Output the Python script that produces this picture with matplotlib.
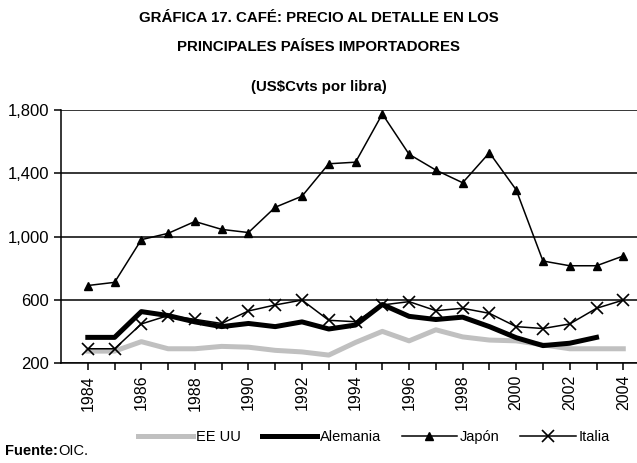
import matplotlib.pyplot as plt

plt.rcParams['font.family'] = ['Liberation Sans', 'DejaVu Sans']

anios = list(range(1984, 2005))
eeuu = [275, 275, 335, 290, 290, 305, 300, 280, 270, 250, 330, 400, 340, 410, 365, 345,
        340, 315, 290, 290, 290]
alemania = [362, 362, 525, 500, 460, 430, 450, 430, 460, 415, 440, 570, 495, 475, 490, 430,
            360, 310, 325, 362]
japon = [690, 710, 980, 1020, 1095, 1045, 1025, 1185, 1255, 1460, 1470, 1775, 1520, 1420,
         1340, 1530, 1295, 845, 815, 815, 877]
italia = [290, 290, 447, 500, 476, 450, 529, 567, 598, 470, 461, 567, 588, 531, 546, 514,
          430, 418, 447, 546, 598]

fig = plt.figure(figsize=(6.37, 4.63), dpi=100)
ax = fig.add_axes([0.0958, 0.216, 0.91, 0.5464])

ax.plot(anios, eeuu, color='#c0c0c0', lw=3.6, label='EE UU', zorder=2)
ax.plot(anios[:len(alemania)], alemania, color='black', lw=3.6, label='Alemania', zorder=3)
ax.plot(anios, japon, color='black', lw=1.1, marker='^', ms=6, label='Japón', zorder=4)
ax.plot(anios, italia, color='black', lw=1.1, marker='x', ms=8, mew=1.2, label='Italia', zorder=5)

ax.set_ylim(200, 1800)
ax.set_xlim(1983, 2004.65)
ax.set_yticks([200, 600, 1000, 1400, 1800])
ax.set_yticklabels(['200', '600', '1,000', '1,400', '1,800'], fontsize=12)
ax.set_xticks(anios)
ax.set_xticklabels([str(a) if a % 2 == 0 else '' for a in anios], rotation=90, fontsize=11.5)
ax.grid(axis='y', color='black', lw=1.1)
ax.set_axisbelow(True)
for lado in ['top', 'right']:
    ax.spines[lado].set_visible(False)
ax.spines['left'].set_linewidth(1.1)
ax.spines['bottom'].set_linewidth(1.1)
ax.tick_params(direction='out', length=5, width=1.1, color='black')

fig.text(0.5, 0.962, 'GRÁFICA 17. CAFÉ: PRECIO AL DETALLE EN LOS', ha='center', va='center',
         fontsize=10.8, fontweight='bold')
fig.text(0.5, 0.898, 'PRINCIPALES PAÍSES IMPORTADORES', ha='center', va='center',
         fontsize=10.8, fontweight='bold')
fig.text(0.5, 0.812, '(US$Cvts por libra)', ha='center', va='center',
         fontsize=10.8, fontweight='bold')

fig.legend(loc='center', bbox_to_anchor=(0.587, 0.056), ncol=4, frameon=False, fontsize=10.5,
           handlelength=3.8, handletextpad=0.2, columnspacing=1.4)
fig.text(0.008, 0.017, 'Fuente:', fontsize=10.5, fontweight='bold', va='baseline')
fig.text(0.092, 0.017, 'OIC.', fontsize=10.5, va='baseline')

fig.savefig('out.png', dpi=100)
